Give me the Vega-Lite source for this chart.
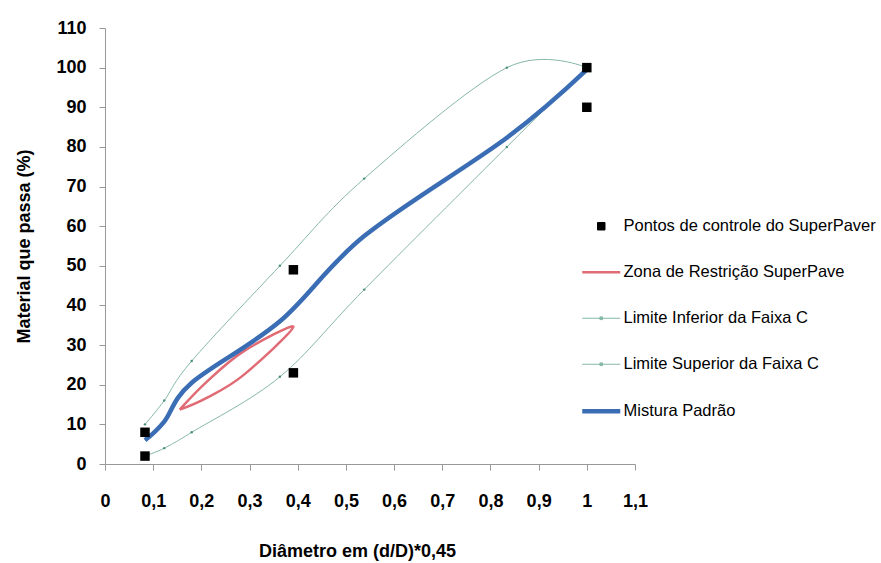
{
  "$schema": "https://vega.github.io/schema/vega-lite/v6.json",
  "width": 530,
  "height": 436,
  "autosize": {"type": "none"},
  "padding": {"left": 105, "top": 28, "right": 246, "bottom": 99},
  "background": "white",
  "config": {"view": {"stroke": null}, "font": "Liberation Sans"},
  "data": {
    "values": [
      {"serie": "Pontos de controle do SuperPaver", "ord": 0, "x": 0.083, "y": 2},
      {"serie": "Pontos de controle do SuperPaver", "ord": 1, "x": 0.083, "y": 8},
      {"serie": "Pontos de controle do SuperPaver", "ord": 2, "x": 0.391, "y": 23},
      {"serie": "Pontos de controle do SuperPaver", "ord": 3, "x": 0.391, "y": 49},
      {"serie": "Pontos de controle do SuperPaver", "ord": 4, "x": 1, "y": 90},
      {"serie": "Pontos de controle do SuperPaver", "ord": 5, "x": 1, "y": 100},
      {"serie": "Zona de Restrição SuperPave", "ord": 0, "x": 0.155, "y": 13.7},
      {"serie": "Zona de Restrição SuperPave", "ord": 1, "x": 0.211, "y": 20.7},
      {"serie": "Zona de Restrição SuperPave", "ord": 2, "x": 0.286, "y": 28.3},
      {"serie": "Zona de Restrição SuperPave", "ord": 3, "x": 0.391, "y": 34.6},
      {"serie": "Zona de Restrição SuperPave", "ord": 4, "x": 0.286, "y": 22.3},
      {"serie": "Zona de Restrição SuperPave", "ord": 5, "x": 0.211, "y": 16.7},
      {"serie": "Zona de Restrição SuperPave", "ord": 6, "x": 0.155, "y": 13.7},
      {"serie": "Limite Inferior da Faixa C", "ord": 0, "x": 0.083, "y": 2},
      {"serie": "Limite Inferior da Faixa C", "ord": 1, "x": 0.123, "y": 4},
      {"serie": "Limite Inferior da Faixa C", "ord": 2, "x": 0.18, "y": 8},
      {"serie": "Limite Inferior da Faixa C", "ord": 3, "x": 0.363, "y": 22},
      {"serie": "Limite Inferior da Faixa C", "ord": 4, "x": 0.538, "y": 44},
      {"serie": "Limite Inferior da Faixa C", "ord": 5, "x": 0.834, "y": 80},
      {"serie": "Limite Inferior da Faixa C", "ord": 6, "x": 1, "y": 100},
      {"serie": "Limite Superior da Faixa C", "ord": 0, "x": 0.083, "y": 10},
      {"serie": "Limite Superior da Faixa C", "ord": 1, "x": 0.123, "y": 16},
      {"serie": "Limite Superior da Faixa C", "ord": 2, "x": 0.18, "y": 26},
      {"serie": "Limite Superior da Faixa C", "ord": 3, "x": 0.363, "y": 50},
      {"serie": "Limite Superior da Faixa C", "ord": 4, "x": 0.538, "y": 72},
      {"serie": "Limite Superior da Faixa C", "ord": 5, "x": 0.834, "y": 100},
      {"serie": "Limite Superior da Faixa C", "ord": 6, "x": 1, "y": 100},
      {"serie": "Mistura Padrão", "ord": 0, "x": 0.083, "y": 6},
      {"serie": "Mistura Padrão", "ord": 1, "x": 0.123, "y": 10.7},
      {"serie": "Mistura Padrão", "ord": 2, "x": 0.18, "y": 20.5},
      {"serie": "Mistura Padrão", "ord": 3, "x": 0.363, "y": 36},
      {"serie": "Mistura Padrão", "ord": 4, "x": 0.538, "y": 57.5},
      {"serie": "Mistura Padrão", "ord": 5, "x": 0.834, "y": 82.3},
      {"serie": "Mistura Padrão", "ord": 6, "x": 1, "y": 99.5}
    ]
  },
  "encoding": {
    "x": {
      "field": "x", "type": "quantitative",
      "scale": {"domain": [0, 1.1], "nice": false, "zero": false},
      "axis": {
        "values": [0, 0.1, 0.2, 0.3, 0.4, 0.5, 0.6, 0.7, 0.8, 0.9, 1, 1.1],
        "labelExpr": "replace(format(datum.value, '.1~f'), '.', ',')",
        "title": "Diâmetro em (d/D)*0,45",
        "titleX": 252, "titleY": 87, "titleAlign": "center", "titleBaseline": "middle",
        "titleFontSize": 18, "titleFontWeight": "bold", "titleColor": "black",
        "labelFontSize": 18, "labelFontWeight": "bold", "labelColor": "black",
        "labelPadding": 22, "tickSize": 6, "tickColor": "#999999", "domainColor": "#999999",
        "grid": false, "labelFlush": false, "labelOverlap": false
      }
    },
    "y": {
      "field": "y", "type": "quantitative",
      "scale": {"domain": [0, 110], "nice": false},
      "axis": {
        "values": [0, 10, 20, 30, 40, 50, 60, 70, 80, 90, 100, 110],
        "title": "Material que passa (%)",
        "titleX": -81, "titleY": 218, "titleAngle": -90, "titleAlign": "center", "titleBaseline": "middle",
        "titleFontSize": 18, "titleFontWeight": "bold", "titleColor": "black",
        "labelFontSize": 18, "labelFontWeight": "bold", "labelColor": "black",
        "labelPadding": 13, "tickSize": 6, "tickColor": "#999999", "domainColor": "#999999",
        "grid": false, "labelOverlap": false
      }
    },
    "order": {"field": "ord", "type": "quantitative"}
  },
  "layer": [
    {
      "transform": [{"filter": "indexof(datum.serie, 'Limite') === 0"}],
      "mark": {"type": "line", "strokeWidth": 1, "interpolate": "cardinal"},
      "encoding": {
        "color": {
          "field": "serie", "type": "nominal",
          "scale": {
            "domain": ["Pontos de controle do SuperPaver", "Zona de Restrição SuperPave", "Limite Inferior da Faixa C", "Limite Superior da Faixa C", "Mistura Padrão"],
            "range": ["#000000", "#e06b74", "#86b8a6", "#86b8a6", "#3a6db4"]
          },
          "legend": {
            "title": null, "orient": "none", "legendX": 488, "legendY": 190,
            "symbolSize": 1444, "labelFontSize": 16.5, "labelColor": "black", "labelOffset": 14,
            "rowPadding": 29, "labelLimit": 400,
            "encode": {
              "symbols": {
                "update": {
                  "shape": {"signal": "datum.value === 'Pontos de controle do SuperPaver' ? 'square' : (indexof(datum.value, 'Limite') === 0 ? 'M-1,0L1,0M-0.07,-0.07L0.07,-0.07L0.07,0.07L-0.07,0.07Z' : 'stroke')"},
                  "size": {"signal": "datum.value === 'Pontos de controle do SuperPaver' ? 56 : 1444"},
                  "fill": {"signal": "datum.value === 'Pontos de controle do SuperPaver' ? 'black' : 'transparent'"},
                  "stroke": {"signal": "datum.value === 'Pontos de controle do SuperPaver' ? 'transparent' : scale('color', datum.value)"},
                  "strokeWidth": {"signal": "datum.value === 'Mistura Padrão' ? 4.5 : (datum.value === 'Zona de Restrição SuperPave' ? 2.5 : 1)"},
                  "opacity": {"value": 1}
                }
              }
            }
          }
        }
      }
    },
    {
      "transform": [{"filter": "indexof(datum.serie, 'Limite') === 0"}],
      "mark": {"type": "point", "filled": true, "size": 6, "color": "#4a8f78", "opacity": 1},
      "encoding": {}
    },
    {
      "transform": [{"filter": "datum.serie === 'Zona de Restrição SuperPave'"}],
      "mark": {"type": "line", "strokeWidth": 2.5, "interpolate": "cardinal"},
      "encoding": {"color": {"field": "serie", "type": "nominal"}}
    },
    {
      "transform": [{"filter": "datum.serie === 'Mistura Padrão'"}],
      "mark": {"type": "line", "strokeWidth": 4.5, "interpolate": "cardinal"},
      "encoding": {"color": {"field": "serie", "type": "nominal"}}
    },
    {
      "transform": [{"filter": "datum.serie === 'Pontos de controle do SuperPaver'"}],
      "mark": {"type": "point", "shape": "square", "filled": true, "size": 90, "opacity": 1},
      "encoding": {"color": {"field": "serie", "type": "nominal"}}
    }
  ]
}
